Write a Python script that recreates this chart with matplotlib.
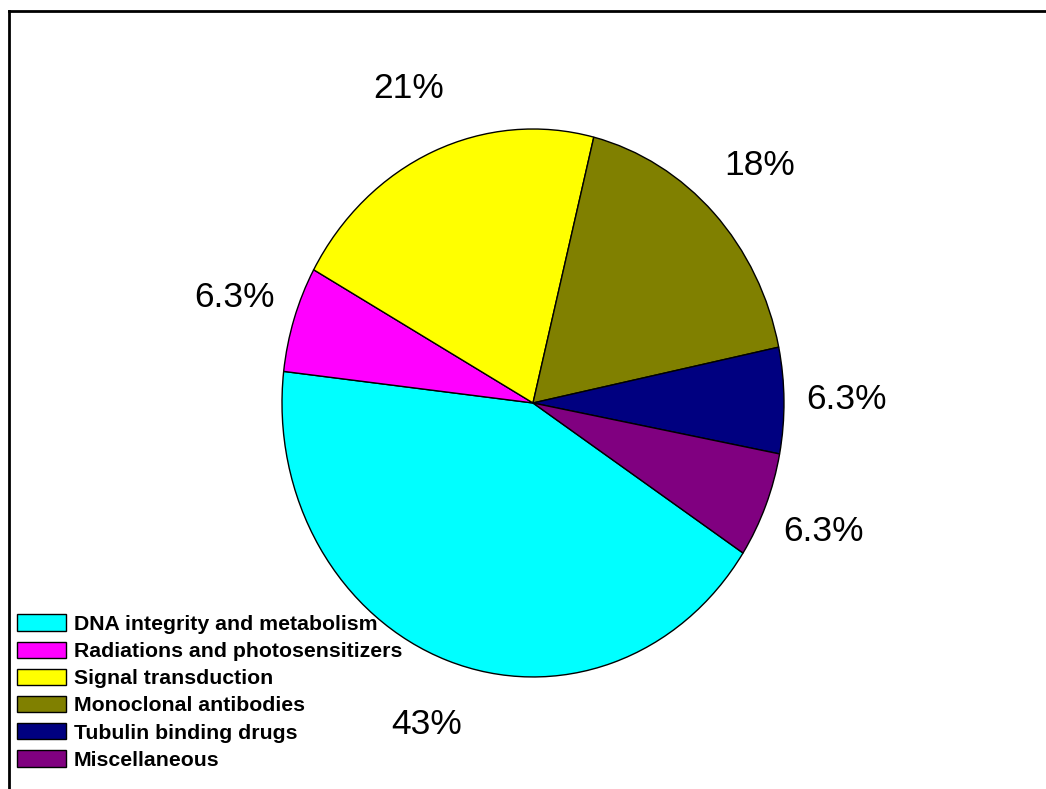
import matplotlib
matplotlib.use('Agg')
import matplotlib.pyplot as plt
from matplotlib.patches import Patch
from matplotlib.lines import Line2D

plt.rcParams['font.family'] = ['Liberation Sans', 'DejaVu Sans']

# Categories and their shares (%)
categories = ['DNA integrity and metabolism', 'Radiations and photosensitizers',
              'Signal transduction', 'Monoclonal antibodies',
              'Tubulin binding drugs', 'Miscellaneous']
shares = [43, 6.3, 21, 18, 6.3, 6.3]
share_labels = ['43%', '6.3%', '21%', '18%', '6.3%', '6.3%']
colors = ['#00FFFF', '#FF00FF', '#FFFF00', '#808000', '#000080', '#800080']

fig = plt.figure(figsize=(10.46, 7.89), dpi=100)

# Pie axes (slightly taller than wide)
ax = fig.add_axes([0.2696, 0.1420, 0.4799, 0.6945])
wedges, texts = ax.pie(shares, labels=share_labels, colors=colors,
                       startangle=-33.2, counterclock=False,
                       labeldistance=1.25,
                       wedgeprops=dict(edgecolor='black', linewidth=1.0),
                       textprops=dict(fontsize=25.5))
for t in texts:
    t.set_ha('center')
    t.set_va('center')
ax.set_aspect('auto')
ax.set_xlim(-1, 1)
ax.set_ylim(-1, 1)
ax.axis('off')

# Legend at lower left
handles = [Patch(facecolor=c, edgecolor='black', linewidth=1.0) for c in colors]
fig.legend(handles, categories, loc='upper left',
           bbox_to_anchor=(0.0163, 0.2212), frameon=False,
           prop=dict(weight='bold', size=15.3),
           handlelength=2.3, handleheight=0.8, handletextpad=0.38,
           labelspacing=0.36, borderpad=0, borderaxespad=0)

# Border lines along the top and left edge
fig.add_artist(Line2D([8.5 / 1046, 8.5 / 1046], [0, 1 - 11.3 / 789],
                      transform=fig.transFigure, color='black', linewidth=2))
fig.add_artist(Line2D([8.5 / 1046, 1], [1 - 11.3 / 789, 1 - 11.3 / 789],
                      transform=fig.transFigure, color='black', linewidth=2))

fig.savefig('out.png', dpi=100)
